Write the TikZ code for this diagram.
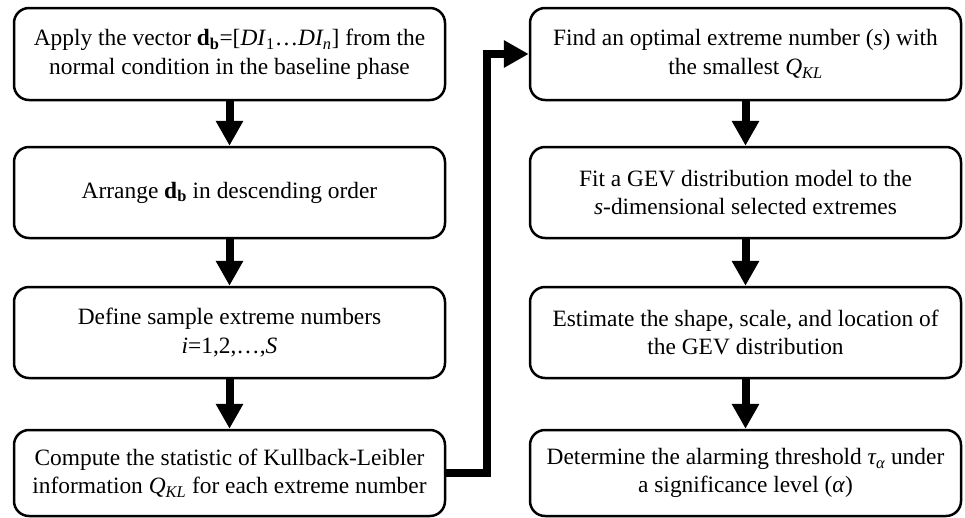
\documentclass[tikz,border=0pt]{standalone}
\usepackage{fontspec}
\setmainfont{Liberation Serif}
\usetikzlibrary{arrows.meta}
\begin{document}
\begin{tikzpicture}[x=1pt,y=-1pt,
  stepbox/.style={draw,line width=2.5pt,rounded corners=15pt,minimum width=431pt,
    inner sep=0pt,align=center,font=\fontsize{23.4}{28.5}\selectfont},
  bigarrow/.style={line width=8pt,-{Triangle[length=25pt,width=26pt]}}]
\useasboundingbox (0,0) rectangle (965,517);
\node[stepbox,minimum height=92pt] (l1) at (229.5,54) {Apply the vector \textbf{d}\textsubscript{\textbf{b}}=[\textit{DI}\textsubscript{1}…\textit{DI\textsubscript{n}}] from the\\normal condition in the baseline phase};
\node[stepbox,minimum height=91pt] (l2) at (229.5,192.5) {Arrange \textbf{d}\textsubscript{\textbf{b}} in descending order};
\node[stepbox,minimum height=91pt] (l3) at (229.5,332.5) {Define sample extreme numbers\\\textit{i}=1,2,…,\textit{S}};
\node[stepbox,minimum height=86pt] (l4) at (229.5,473) {Compute the statistic of Kullback-Leibler\\information \textit{Q\textsubscript{KL}} for each extreme number};
\node[stepbox,minimum height=92pt] (r1) at (745.5,54) {Find an optimal extreme number (\textit{s}) with\\the smallest \textit{Q\textsubscript{KL}}};
\node[stepbox,minimum height=91pt] (r2) at (745.5,192.5) {Fit a GEV distribution model to the\\\textit{s}-dimensional selected extremes};
\node[stepbox,minimum height=91pt] (r3) at (745.5,332.5) {Estimate the shape, scale, and location of\\the GEV distribution};
\node[stepbox,minimum height=86pt] (r4) at (745.5,473) {Determine the alarming threshold \textit{τ\textsubscript{α}} under\\a significance level (\textit{α})};
\draw[bigarrow] (l1.south) -- (l2.north);
\draw[bigarrow] (l2.south) -- (l3.north);
\draw[bigarrow] (l3.south) -- (l4.north);
\draw[bigarrow] (r1.south) -- (r2.north);
\draw[bigarrow] (r2.south) -- (r3.north);
\draw[bigarrow] (r3.south) -- (r4.north);
\draw[bigarrow] (l4.east) -- ++(41,0) |- (r1.west);
\end{tikzpicture}
\end{document}
